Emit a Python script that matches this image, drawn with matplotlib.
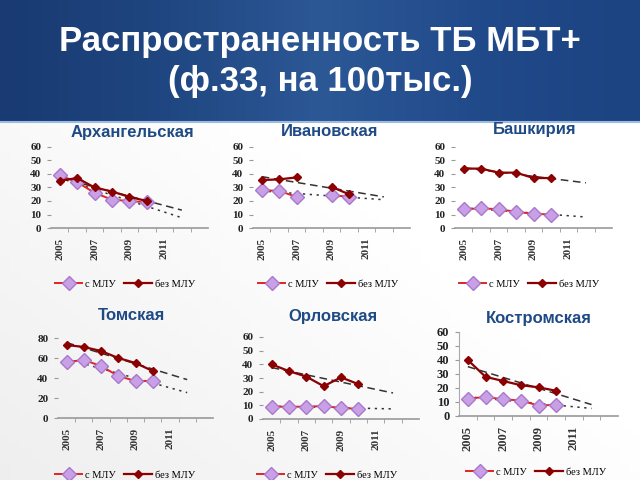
import numpy as np
import matplotlib
matplotlib.use("Agg")
import matplotlib.pyplot as plt
from matplotlib.colors import LinearSegmentedColormap

years = ["2005", "2006", "2007", "2008", "2009", "2010", "2011", "2012", "2013"]
year_labels = ["2005", "", "2007", "", "2009", "", "2011", "", ""]

arh_mdr = [39, 34, 26, 21, 20, 19]
arh_no = [35, 37, 30, 27, 23, 20]
ivan_mdr = [28, 27.5, 23, np.nan, 24.5, 23]
ivan_no = [35.5, 36, 37.5, np.nan, 30.5, 25]
bash_mdr = [14, 14.5, 14, 12, 10.5, 10]
bash_no = [44, 44, 41, 41, 37, 37]
tomsk_mdr = [56, 58, 52, 42, 37, 37]
tomsk_no = [73, 71, 67, 60, 55, 47]
orel_mdr = [9, 9, 9, 9.5, 8, 7.5]
orel_no = [40, 35, 31, 24, 30.5, 25.5]
kostr_mdr = [12.5, 13.5, 12, 11, 7.5, 8]
kostr_no = [40, 28, 25, 22, 20.5, 18]

W, H = 640, 480
fig = plt.figure(figsize=(6.4, 4.8), dpi=100)

# background + header band
bg = fig.add_axes([0, 0, 1, 1], zorder=-10)
bg.set_xlim(0, W)
bg.set_ylim(H, 0)
bg.axis("off")
lower = LinearSegmentedColormap.from_list("lo", ["#e6e6e6", "#ffffff"])
gx, gy = np.meshgrid(np.linspace(0, 1, 64), np.linspace(0, 1, 48))
bg.imshow(np.clip(0.35 + 0.6 * gx + 0.4 * (1 - gy), 0, 1), cmap=lower,
          extent=[0, W, H, 122], aspect="auto", vmin=0, vmax=1)
head = LinearSegmentedColormap.from_list("hd", ["#193a72", "#1f4680", "#2c5896", "#214a8a", "#1c4382"])
bg.imshow(np.tile(np.linspace(0, 1, 200), (10, 1)), cmap=head,
          extent=[0, W, 121, 0], aspect="auto")
bg.plot([0, W], [122, 122], color="#9dbbe0", lw=1.5)

bg.text(320, 42, "Распространенность ТБ МБТ+", color="white", fontsize=25,
        fontweight="bold", ha="center", va="center", family="Liberation Sans")
bg.text(320, 81, "(ф.33, на 100тыс.)", color="white", fontsize=25,
        fontweight="bold", ha="center", va="center", family="Liberation Sans")


def panel(title, mdr, no, left, right, top, bottom, ymax, step, tpos, lpos, spine=False, yfs=8):
    ax = fig.add_axes([left / W, 1 - bottom / H, (right - left) / W, (bottom - top) / H])
    ax.patch.set_alpha(0)
    x = np.arange(len(mdr))
    xt = np.arange(len(years))
    # linear trend lines (as in Excel), extended to 2013
    for vals, st in [(no, (0, (5, 3))), (mdr, (0, (1.5, 3)))]:
        v = np.array(vals, dtype=float)
        ok = ~np.isnan(v)
        k, b = np.polyfit(x[ok], v[ok], 1)
        ax.plot(xt[:-1], k * xt[:-1] + b, color="#333333", lw=1.1, linestyle=st, zorder=1)
    ax.plot(x, no, color="#8b0000", lw=1.6, marker="D", ms=4, mfc="#8b0000",
            mec="#8b0000", label="без МЛУ", zorder=3)
    ax.plot(x, mdr, color="#e02525", lw=1.4, marker="D", ms=7.5, mfc="#c9a0e6",
            mec="#a878cc", label="с МЛУ", zorder=2)
    ax.set_xlim(-0.5, 8.5)
    ax.set_ylim(0, ymax)
    ax.set_yticks(np.arange(0, ymax + 1, step))
    ax.set_xticks(xt)
    ax.set_xticklabels(year_labels, rotation=90, family="Liberation Serif",
                       fontweight="bold", fontsize=yfs, color="#333333")
    ax.set_xticks(xt[:-1] + 0.5, minor=True)
    ax.tick_params(axis="x", which="major", length=0, pad=7)
    ax.tick_params(axis="x", which="minor", length=3, color="#999999")
    ax.tick_params(axis="y", length=3, color="#999999", pad=4)
    for t in ax.get_yticklabels():
        t.set_family("Liberation Serif")
        t.set_fontweight("bold")
        t.set_fontsize(yfs)
        t.set_color("#222222")
    for s in ["top", "right"]:
        ax.spines[s].set_visible(False)
    ax.spines["left"].set_visible(spine)
    ax.spines["left"].set_color("#aaaaaa")
    ax.spines["bottom"].set_color("#999999")
    ax.spines["bottom"].set_linewidth(1.2)
    fig.text(tpos[0] / W, 1 - tpos[1] / H, title, ha="center", va="center",
             fontsize=12, fontweight="bold", color="#1f4a85", family="Liberation Sans")
    h, l = ax.get_legend_handles_labels()
    ax.legend(h[::-1], l[::-1], loc="center", bbox_to_anchor=(lpos[0] / W, 1 - lpos[1] / H),
              bbox_transform=fig.transFigure, ncol=2, frameon=False, handlelength=2.6,
              handletextpad=0.3, columnspacing=0.8,
              prop={"family": "Liberation Serif", "size": 7.5})
    return ax


panel("Архангельская", arh_mdr, arh_no, 51, 208, 147, 228, 60, 10, (132, 132), (125, 284))
panel("Ивановская", ivan_mdr, ivan_no, 253, 410, 147, 228, 60, 10, (330, 132), (328, 284))
panel("Башкирия", bash_mdr, bash_no, 455, 612, 147, 228, 60, 10, (535, 130), (529, 284))
panel("Томская", tomsk_mdr, tomsk_no, 58, 213, 338, 418, 80, 20, (132, 316), (125, 475))
panel("Орловская", orel_mdr, orel_no, 263, 419, 337, 419, 60, 10, (333, 316), (327, 475))
panel("Костромская", kostr_mdr, kostr_no, 459, 618, 332, 416, 60, 10, (539, 318), (536, 472),
      spine=True, yfs=9)

fig.savefig("out.png", dpi=100)
